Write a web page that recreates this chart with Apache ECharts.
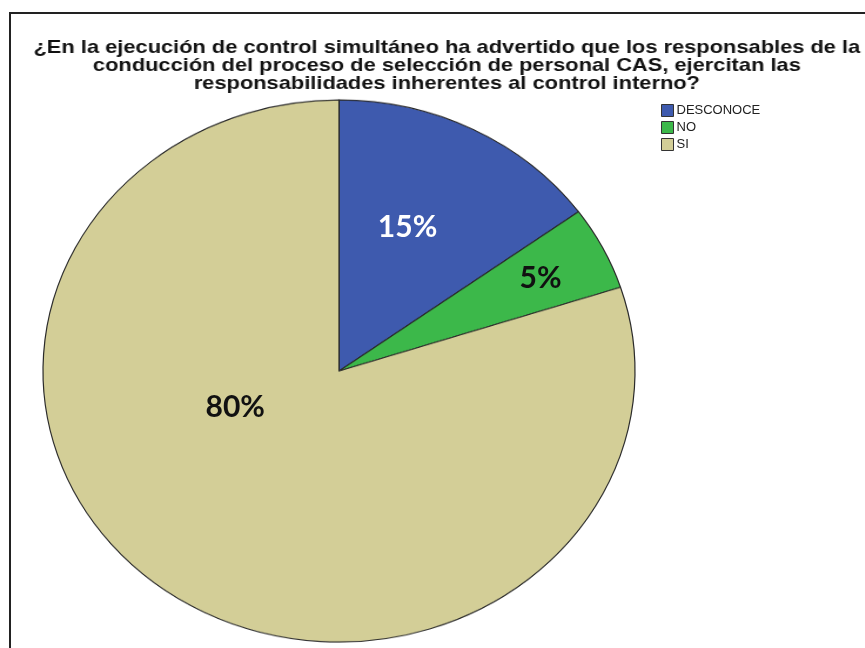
<!DOCTYPE html>
<html>
<head>
<meta charset="utf-8">
<script src="https://cdn.jsdelivr.net/npm/echarts@6/dist/echarts.min.js"></script>
<style>
  html, body { margin: 0; padding: 0; background: #ffffff; }
  #wrap { position: relative; width: 865px; height: 648px; overflow: hidden; background: #fff; }
  #pie { position: absolute; left: 0; top: 0; width: 865px; height: 708px; transform: scaleY(0.91554); transform-origin: 0 0; }
  #top { position: absolute; left: 0; top: 0; width: 865px; height: 648px; pointer-events: none; }
  #ttl { position: absolute; left: 0; top: 0; width: 736px; height: 110px; transform: scaleX(1.175); transform-origin: 0 0; pointer-events: none; }
</style>
</head>
<body>
<div id="wrap">
  <div id="pie"></div>
  <div id="top"></div>
  <div id="ttl"></div>
</div>
<script>
const titleText = '¿En la ejecución de control simultáneo ha advertido que los responsables de la\nconducción del proceso de selección de personal CAS, ejercitan las\nresponsabilidades inherentes al control interno?';
const categories = ['DESCONOCE', 'NO', 'SI'];
const percentages = [15, 5, 80];
const sliceColors = ['#3E5AAE', '#3CB84A', '#D3CE97'];
const labelColors = ['#ffffff', '#111111', '#111111'];
const labelOffsets = [[0, -9], [67, -24], [-15, -86]];

const pieData = categories.map((c, i) => ({ name: c, value: percentages[i] }));

// Bottom chart: the (elliptical, via CSS scale) pie
const pieChart = echarts.init(document.getElementById('pie'), null, { renderer: 'canvas' });
pieChart.setOption({
  animation: false,
  backgroundColor: 'transparent',
  color: sliceColors,
  series: [{
    type: 'pie',
    center: [339, 405.2],
    radius: 296,
    startAngle: 90,
    clockwise: true,
    silent: true,
    label: { show: false },
    labelLine: { show: false },
    itemStyle: { borderColor: '#2a2a2a', borderWidth: 1.2 },
    data: pieData
  }]
});

// Middle chart: frame, legend and percentage labels
const topChart = echarts.init(document.getElementById('top'), null, { renderer: 'canvas' });
topChart.setOption({
  animation: false,
  backgroundColor: 'transparent',
  legend: {
    orient: 'vertical',
    left: 656,
    top: 99,
    padding: 5,
    itemWidth: 12,
    itemHeight: 12,
    itemGap: 4,
    icon: 'rect',
    selectedMode: false,
    textStyle: { fontFamily: 'Liberation Sans, Arial, sans-serif', fontSize: 13, color: '#222', padding: [0, 0, 0, -2] },
    data: categories.map((c, i) => ({ name: c, itemStyle: { color: sliceColors[i], borderColor: '#333', borderWidth: 1, opacity: 1 } }))
  },
  graphic: [{
    type: 'rect',
    shape: { x: 10, y: 13, width: 880, height: 700 },
    style: { fill: 'none', stroke: '#222', lineWidth: 2 },
    silent: true
  }],
  series: [{
    type: 'pie',
    center: [339, 371],
    radius: 296,
    startAngle: 90,
    clockwise: true,
    silent: true,
    labelLine: { show: false },
    itemStyle: { color: 'rgba(0,0,0,0)', borderWidth: 0 },
    label: {
      show: true,
      position: 'inside',
      formatter: '{c}%',
      fontFamily: 'Lato, sans-serif',
      fontWeight: 'bold',
      fontSize: 30
    },
    data: pieData.map((d, i) => ({
      name: d.name,
      value: d.value,
      label: { color: labelColors[i], offset: labelOffsets[i] }
    }))
  }]
});

// Top chart: title (horizontally stretched like the reference)
const titleChart = echarts.init(document.getElementById('ttl'), null, { renderer: 'canvas' });
titleChart.setOption({
  animation: false,
  backgroundColor: 'transparent',
  title: {
    text: titleText,
    left: 375.3,
    top: 34,
    textAlign: 'center',
    textStyle: {
      fontFamily: 'Liberation Sans, Arial, sans-serif',
      fontWeight: 'bold',
      fontSize: 18.6,
      lineHeight: 18,
      color: '#111111'
    }
  }
});
</script>
</body>
</html>
